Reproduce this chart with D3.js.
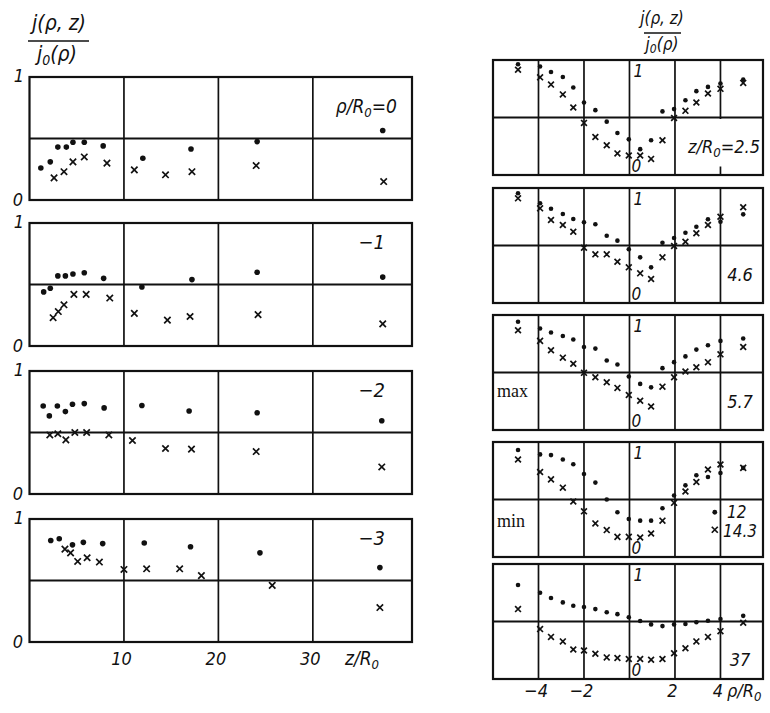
<!DOCTYPE html>
<html>
<head>
<meta charset="utf-8">
<script src="https://cdn.jsdelivr.net/npm/d3@7"></script>
<style>
  body { margin: 0; background: #fff; }
  text { font-family: "Liberation Sans Narrow", "DejaVu Sans Condensed", "Liberation Sans", sans-serif; font-style: italic; fill: #111; }
  text.serif { font-family: "Liberation Serif", "DejaVu Serif", serif; font-style: normal; }
</style>
</head>
<body>
<div class="chart"></div>
<script>
// ---- data ----
const zTicks = [10, 20, 30];
const rhoTicks = [-4, -2, 2, 4];
const leftLabels = ['0', '−1', '−2', '−3'];          // rho/R0 of each left panel
const rightLabels = ['2.5', '4.6', '5.7', '12', '37'];  // z/R0 of each right panel

// left panels: j/j0 against z/R0, dots and crosses
const zDots0 = [1.2, 2.2, 3.0, 3.9, 4.6, 5.8, 7.8, 12.0, 17.1, 24.1, 37.4];
const vDots0 = [0.26, 0.31, 0.43, 0.43, 0.47, 0.47, 0.44, 0.34, 0.415, 0.475, 0.565];
const zCross0 = [2.6, 3.65, 4.6, 5.8, 8.2, 11.1, 14.4, 17.2, 24.0, 37.5];
const vCross0 = [0.18, 0.23, 0.31, 0.35, 0.30, 0.245, 0.205, 0.23, 0.28, 0.15];

const zDots1 = [1.5, 2.2, 3.0, 3.8, 4.6, 5.8, 7.85, 11.9, 17.2, 24.1, 37.4];
const vDots1 = [0.44, 0.47, 0.57, 0.57, 0.585, 0.595, 0.55, 0.48, 0.54, 0.60, 0.56];
const zCross1 = [2.5, 3.05, 3.65, 4.7, 6.0, 8.5, 11.1, 14.6, 17.0, 24.2, 37.4];
const vCross1 = [0.23, 0.28, 0.335, 0.42, 0.42, 0.39, 0.265, 0.21, 0.24, 0.255, 0.18];

const zDots2 = [1.45, 2.1, 2.95, 3.8, 4.55, 5.8, 7.9, 11.9, 16.9, 24.1, 37.3];
const vDots2 = [0.715, 0.635, 0.715, 0.67, 0.73, 0.735, 0.70, 0.72, 0.675, 0.66, 0.595];
const zCross2 = [2.15, 3.0, 3.85, 4.8, 6.05, 8.4, 10.9, 14.4, 17.15, 24.0, 37.3];
const vCross2 = [0.48, 0.49, 0.44, 0.50, 0.50, 0.48, 0.435, 0.37, 0.365, 0.345, 0.22];

const zDots3 = [2.25, 3.15, 4.55, 5.7, 7.75, 12.15, 17.05, 24.4, 37.1];
const vDots3 = [0.825, 0.84, 0.79, 0.81, 0.80, 0.805, 0.775, 0.725, 0.605];
const zCross3 = [3.75, 4.35, 5.1, 6.1, 7.4, 10.0, 12.4, 15.9, 18.2, 25.7, 37.1];
const vCross3 = [0.755, 0.725, 0.655, 0.685, 0.65, 0.59, 0.595, 0.595, 0.54, 0.46, 0.28];

// right panels: j/j0 against rho/R0
const rhoPts = [-4.9, -3.93, -3.45, -2.93, -2.47, -2.0, -1.5, -1.0, -0.53, -0.03, 0.47, 0.95, 1.45, 1.96, 2.46, 2.94, 3.45, 4.0, 5.0];

const rDots0 = [0.963, 0.943, 0.895, 0.852, 0.761, 0.630, 0.564, 0.464, 0.365, 0.310, 0.225, 0.302, 0.553, 0.573, 0.650, 0.729, 0.766, 0.795, 0.829];
const rCross0 = [0.915, 0.849, 0.786, 0.701, 0.587, 0.453, 0.331, 0.259, 0.188, 0.17, 0.17, 0.14, 0.302, 0.495, 0.558, 0.630, 0.709, 0.749, 0.801];

const rDots1 = [0.954, 0.867, 0.820, 0.774, 0.730, 0.702, 0.685, 0.585, 0.542, 0.467, 0.397, 0.310, 0.524, 0.565, 0.611, 0.663, 0.728, 0.707, 0.771];
const rCross1 = [0.910, 0.823, 0.722, 0.678, 0.620, 0.481, 0.423, 0.423, 0.359, 0.310, 0.258, 0.209, 0.397, 0.496, 0.533, 0.606, 0.678, 0.750, 0.832];

const rDots2 = [0.941, 0.883, 0.848, 0.818, 0.787, 0.722, 0.708, 0.605, 0.570, 0.465, 0.401, 0.371, 0.538, 0.590, 0.640, 0.699, 0.737, 0.775, 0.796];
const rCross2 = [0.868, 0.775, 0.693, 0.629, 0.576, 0.497, 0.459, 0.415, 0.366, 0.304, 0.254, 0.204, 0.377, 0.459, 0.509, 0.546, 0.590, 0.658, 0.722];

const rDots3 = [0.930, 0.892, 0.886, 0.848, 0.807, 0.722, 0.647, 0.500, 0.389, 0.331, 0.316, 0.316, 0.424, 0.535, 0.623, 0.711, 0.696, 0.731, 0.775];
const rCross3 = [0.848, 0.739, 0.675, 0.603, 0.482, 0.397, 0.292, 0.234, 0.175, 0.175, 0.169, 0.204, 0.316, 0.471, 0.570, 0.652, 0.761, 0.804, 0.775];

const rDots4 = [0.817, 0.750, 0.705, 0.666, 0.637, 0.626, 0.608, 0.581, 0.564, 0.537, 0.504, 0.475, 0.460, 0.475, 0.478, 0.493, 0.507, 0.522, 0.549];
const rCross4 = [0.608, 0.434, 0.366, 0.327, 0.257, 0.248, 0.219, 0.188, 0.183, 0.174, 0.174, 0.168, 0.174, 0.224, 0.268, 0.327, 0.366, 0.416, 0.489];

// key marks in the 12 / 14.3 panel
const keyRho = 3.75;
const keyDot = 0.389;
const keyCross = 0.237;

const leftSets = [
  [zDots0, vDots0, zCross0, vCross0],
  [zDots1, vDots1, zCross1, vCross1],
  [zDots2, vDots2, zCross2, vCross2],
  [zDots3, vDots3, zCross3, vCross3]
];
const rightSets = [[rDots0, rCross0], [rDots1, rCross1], [rDots2, rCross2], [rDots3, rCross3], [rDots4, rCross4]];

// ---- layout ----
const width = 770, height = 713;
const leftTops = [77, 223, 371, 519], leftH = 123;
const rightTops = [60, 188, 315, 442, 564], rightH = 115;

const z = d3.scaleLinear().domain([0, 40.5]).range([29.5, 412]);
const rho = d3.scaleLinear().domain([-6, 5.87]).range([493, 763]);

const svg = d3.select('.chart').append('svg')
  .attr('width', width)
  .attr('height', height)
  .style('background', '#fff');

function cross(g, xs, ys, x, y, s) {
  g.selectAll(null)
    .data(d3.zip(xs, ys))
    .enter().append('path')
      .attr('d', d => `M${x(d[0]) - s},${y(d[1]) - s}L${x(d[0]) + s},${y(d[1]) + s}M${x(d[0]) - s},${y(d[1]) + s}L${x(d[0]) + s},${y(d[1]) - s}`)
      .attr('stroke', '#111')
      .attr('stroke-width', 1.7)
      .attr('fill', 'none');
}

function dots(g, xs, ys, x, y, r) {
  g.selectAll(null)
    .data(d3.zip(xs, ys))
    .enter().append('circle')
      .attr('cx', d => x(d[0]))
      .attr('cy', d => y(d[1]))
      .attr('r', r)
      .attr('fill', '#111');
}

function frame(g, x, y, verticals) {
  const [x0, x1] = x.range();
  g.append('line')
    .attr('x1', x0).attr('x2', x1)
    .attr('y1', y(0.5)).attr('y2', y(0.5))
    .attr('stroke', '#111').attr('stroke-width', 1.8);
  g.selectAll(null)
    .data(verticals)
    .enter().append('line')
      .attr('x1', d => x(d)).attr('x2', d => x(d))
      .attr('y1', y(1)).attr('y2', y(0))
      .attr('stroke', '#111').attr('stroke-width', 1.7);
  g.append('rect')
    .attr('x', x0).attr('y', y(1))
    .attr('width', x1 - x0).attr('height', y(0) - y(1))
    .attr('fill', 'none')
    .attr('stroke', '#111').attr('stroke-width', 2.2);
}

/*
 * Left column: rho/R0 = 0, -1, -2, -3
 */
leftSets.forEach((set, i) => {
  const y = d3.scaleLinear().domain([0, 1]).range([leftTops[i] + leftH, leftTops[i]]);
  const g = svg.append('g');
  frame(g, z, y, zTicks);
  dots(g, set[0], set[1], z, y, 2.8);
  cross(g, set[2], set[3], z, y, 3.2);

  g.append('text').attr('x', 24).attr('y', y(1) + 5)
    .attr('text-anchor', 'end').attr('font-size', 18).text('1');
  g.append('text').attr('x', 23).attr('y', y(0) + 6)
    .attr('text-anchor', 'end').attr('font-size', 18).text('0');

  if (i === 0) {
    const t = g.append('text').attr('x', 397).attr('y', y(1) + 36)
      .attr('text-anchor', 'end').attr('font-size', 19);
    t.append('tspan').text('ρ/R');
    t.append('tspan').attr('font-size', 13).attr('dy', 4).text('0');
    t.append('tspan').attr('dy', -4).text('=' + leftLabels[i]);
  } else {
    g.append('text').attr('x', 385).attr('y', y(1) + 26)
      .attr('text-anchor', 'end').attr('font-size', 20).text(leftLabels[i]);
  }
});

const zAxis = svg.append('g')
  .attr('transform', 'translate(-3, 665)')
  .call(d3.axisBottom(z).tickValues(zTicks).tickSize(0).tickPadding(0));
zAxis.select('.domain').remove();
zAxis.selectAll('text').attr('y', 0).attr('dy', 0)
  .attr('font-size', 18).attr('font-family', null).attr('fill', '#111');

const zLab = svg.append('text').attr('x', 345).attr('y', 665).attr('font-size', 19);
zLab.append('tspan').text('z/R');
zLab.append('tspan').attr('font-size', 13).attr('dy', 4).text('0');

// left header
svg.append('text').attr('x', 59).attr('y', 30).attr('text-anchor', 'middle').attr('font-size', 21).text('j(ρ, z)');
svg.append('line').attr('x1', 28).attr('x2', 89).attr('y1', 41).attr('y2', 41).attr('stroke', '#111').attr('stroke-width', 1.6);
const lh = svg.append('text').attr('x', 57).attr('y', 61).attr('text-anchor', 'middle').attr('font-size', 21);
lh.append('tspan').text('j');
lh.append('tspan').attr('font-size', 14).attr('dy', 4).text('0');
lh.append('tspan').attr('dy', -4).text('(ρ)');

/*
 * Right column: z/R0 = 2.5, 4.6, 5.7, 12 & 14.3, 37
 */
rightSets.forEach((set, i) => {
  const y = d3.scaleLinear().domain([0, 1]).range([rightTops[i] + rightH, rightTops[i]]);
  const g = svg.append('g');
  frame(g, rho, y, [-4, -2, 0, 2, 4]);

  if (i === 0) {
    // label box cuts the rho = 4 line in the lower half
    g.append('rect').attr('x', 712).attr('y', y(0.5) + 1.5)
      .attr('width', 20).attr('height', y(0) - y(0.5) - 10).attr('fill', '#fff');
    const t = g.append('text').attr('x', 760).attr('y', y(0) - 22)
      .attr('text-anchor', 'end').attr('font-size', 18);
    t.append('tspan').text('z/R');
    t.append('tspan').attr('font-size', 13).attr('dy', 4).text('0');
    t.append('tspan').attr('dy', -4).text('=' + rightLabels[i]);
  } else if (i === 3) {
    g.append('text').attr('x', 727).attr('y', y(1) + 76).attr('font-size', 17).text(rightLabels[i]);
    g.append('text').attr('x', 723).attr('y', y(1) + 95).attr('font-size', 17).text('14.3');
    dots(g, [keyRho], [keyDot], rho, y, 2.4);
    cross(g, [keyRho], [keyCross], rho, y, 3);
  } else {
    g.append('text').attr('x', 740).attr('y', y(0) - (i === 4 ? 13 : 22))
      .attr('text-anchor', 'middle').attr('font-size', 18).text(rightLabels[i]);
  }
  if (i === 2) g.append('text').attr('class', 'serif').attr('x', 497).attr('y', y(1) + 82).attr('font-size', 18).text('max');
  if (i === 3) g.append('text').attr('class', 'serif').attr('x', 497).attr('y', y(1) + 85).attr('font-size', 18).text('min');

  dots(g, rhoPts, set[0], rho, y, 2.3);
  cross(g, rhoPts, set[1], rho, y, 2.9);

  g.append('text').attr('x', rho(0) + 4).attr('y', y(1) + 17).attr('font-size', 17).text('1');
  g.append('text').attr('x', rho(0) + 2).attr('y', y(0) - 3).attr('font-size', 17).text('0');
});

const rAxis = svg.append('g')
  .attr('transform', 'translate(-3, 697)')
  .call(d3.axisBottom(rho).tickValues(rhoTicks).tickSize(0).tickPadding(0)
    .tickFormat(d => d < 0 ? '−' + Math.abs(d) : d));
rAxis.select('.domain').remove();
rAxis.selectAll('text').attr('y', 0).attr('dy', 0)
  .attr('font-size', 18).attr('font-family', null).attr('fill', '#111');

const rLab = svg.append('text').attr('x', 727).attr('y', 697).attr('font-size', 18);
rLab.append('tspan').text('ρ/R');
rLab.append('tspan').attr('font-size', 13).attr('dy', 4).text('0');

// right header
svg.append('text').attr('x', 662).attr('y', 24).attr('text-anchor', 'middle').attr('font-size', 17).text('j(ρ, z)');
svg.append('line').attr('x1', 644).attr('x2', 681).attr('y1', 33).attr('y2', 33).attr('stroke', '#111').attr('stroke-width', 1.4);
const rh = svg.append('text').attr('x', 662).attr('y', 50).attr('text-anchor', 'middle').attr('font-size', 17);
rh.append('tspan').text('j');
rh.append('tspan').attr('font-size', 12).attr('dy', 3).text('0');
rh.append('tspan').attr('dy', -3).text('(ρ)');
</script>
</body>
</html>
